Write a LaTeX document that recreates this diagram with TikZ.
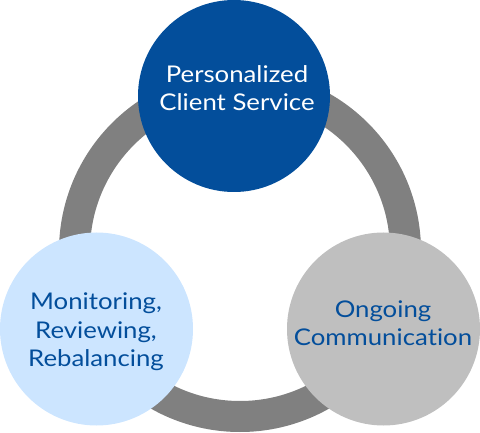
\documentclass[tikz,border=0pt]{standalone}
\usepackage{fontspec}
\setmainfont{Lato}[FakeStretch=1.12,Ligatures=NoCommon]
\definecolor{dblue}{HTML}{034E9B}
\definecolor{lblue}{HTML}{CCE5FF}
\definecolor{rgray}{HTML}{808080}
\definecolor{cgray}{HTML}{BFBFBF}
\begin{document}
\begin{tikzpicture}[x=1pt,y=1pt,
  bubble/.style={circle,minimum size=193pt,inner sep=0pt},
  lbl/.style={align=center,font=\fontsize{23}{28.5}\selectfont}]
\useasboundingbox (0,0) rectangle (480,432);
\coordinate (ringc) at (240,181);
\draw[rgray,line width=31pt] (ringc) circle[radius=165.5];
\node[bubble,fill=dblue,minimum size=192pt] (top) at (234,336) {};
\node[bubble,fill=lblue] (left) at (96.5,103) {};
\node[bubble,fill=cgray] (right) at (383.5,103) {};
\node[lbl,text=white] (toptxt) at (237,344) {Personalized\\Client Service};
\node[lbl,text=dblue] (lefttxt) at (96,100) {Monitoring,\\Reviewing,\\Rebalancing};
\node[lbl,text=dblue] (righttxt) at (383,109) {Ongoing\\Communication};
\end{tikzpicture}
\end{document}
